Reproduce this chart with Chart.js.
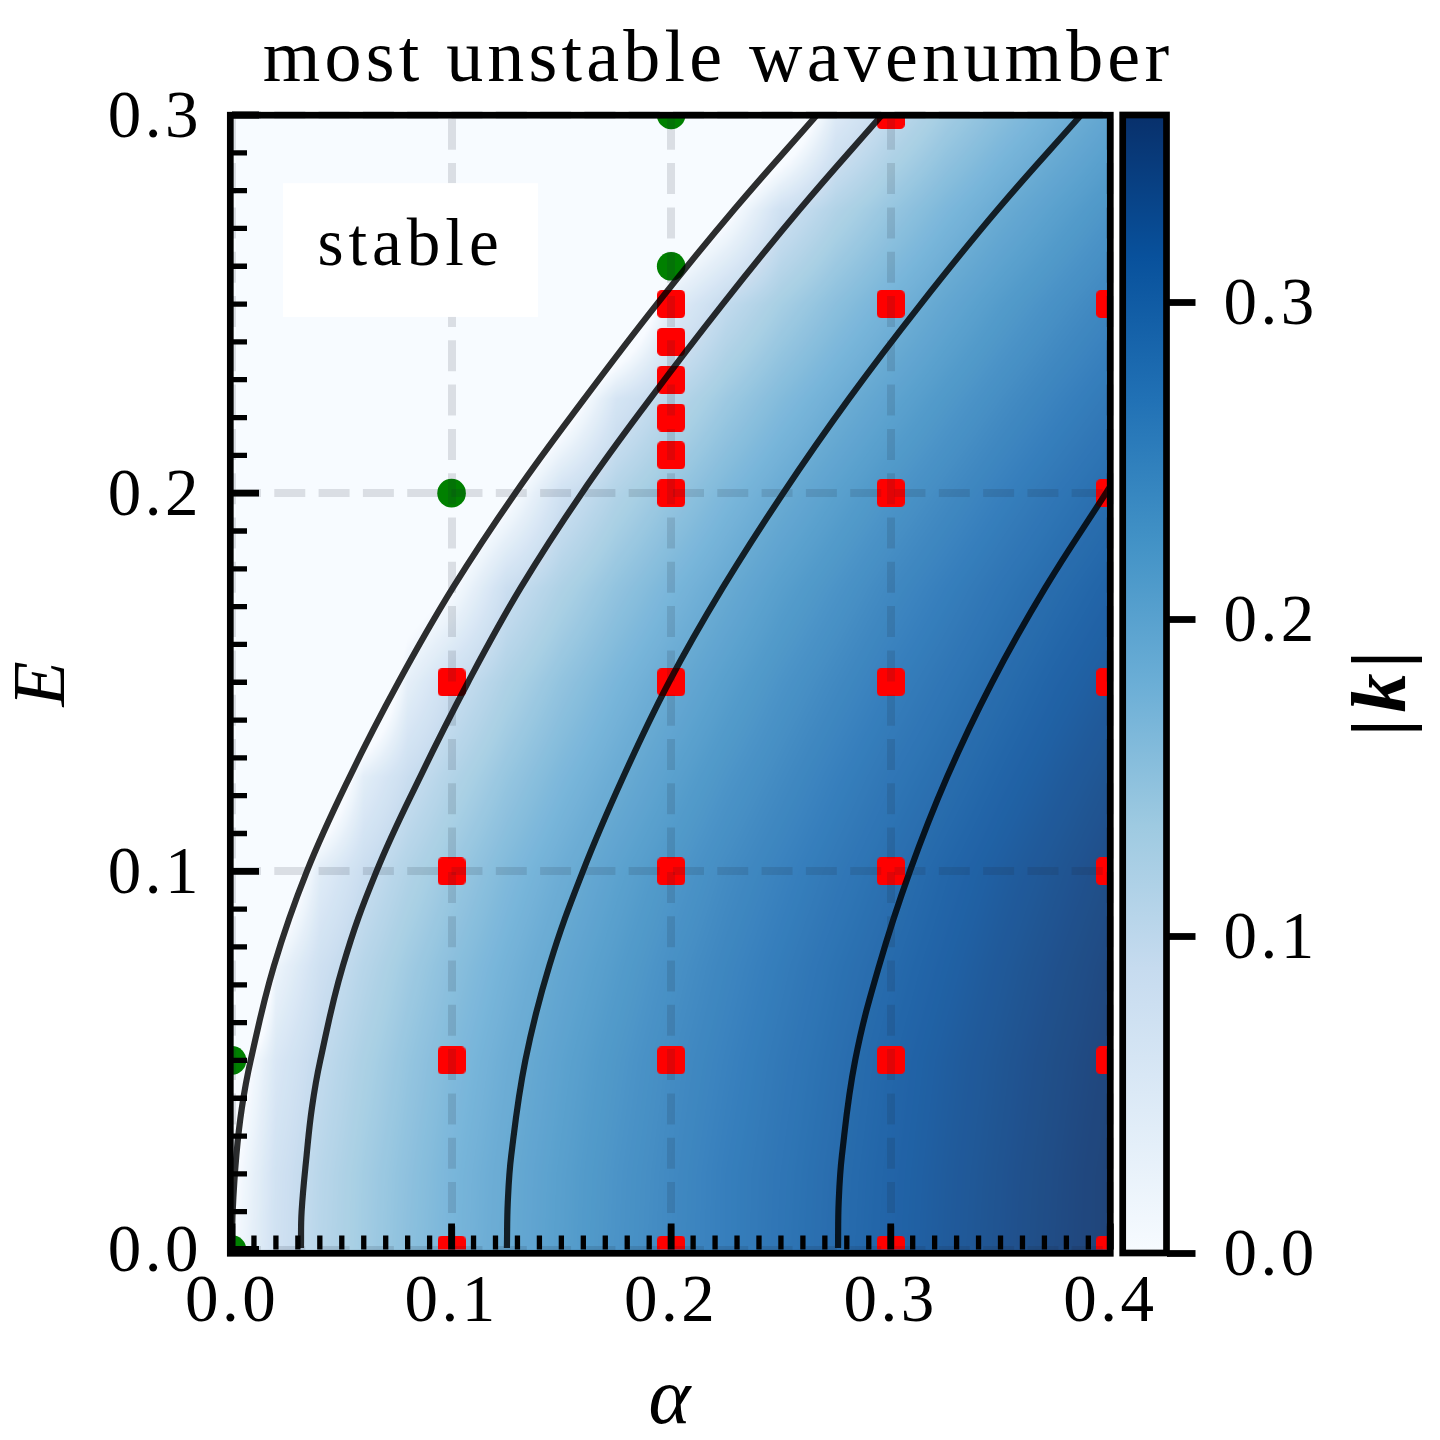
<!DOCTYPE html>
<html>
<head>
<meta charset="utf-8">
<title>most unstable wavenumber</title>
<style>
  html, body { margin: 0; padding: 0; background: #fff; }
  canvas { position: absolute; left: 0; top: 0; }
</style>
<script src="https://cdn.jsdelivr.net/npm/chart.js@4/dist/chart.umd.min.js"></script>
</head>
<body>
<canvas id="plot" width="1440" height="1440"></canvas>
<canvas id="cbar" width="1440" height="1440"></canvas>
<script>
/* tick values */
var xTicks = [0, 0.1, 0.2, 0.3, 0.4];
var yTicks = [0, 0.1, 0.2, 0.3];
var cbarTicks = [0, 0.1, 0.2, 0.3];
var xMinor = [0.01, 0.02, 0.03, 0.04, 0.05, 0.06, 0.07, 0.08, 0.09, 0.11, 0.12, 0.13, 0.14, 0.15, 0.16, 0.17, 0.18, 0.19,
  0.21, 0.22, 0.23, 0.24, 0.25, 0.26, 0.27, 0.28, 0.29, 0.31, 0.32, 0.33, 0.34, 0.35, 0.36, 0.37, 0.38, 0.39];
var yMinor = [0.01, 0.02, 0.03, 0.04, 0.05, 0.06, 0.07, 0.08, 0.09, 0.11, 0.12, 0.13, 0.14, 0.15, 0.16, 0.17, 0.18, 0.19,
  0.21, 0.22, 0.23, 0.24, 0.25, 0.26, 0.27, 0.28, 0.29];
var kMax = 0.3591;

/* simulation points */
var stableAlpha = [0, 0, 0.1, 0.2, 0.2];
var stableE = [0, 0.05, 0.2, 0.26, 0.3];
var unstableAlpha = [0.1, 0.1, 0.1, 0.1,
  0.2, 0.2, 0.2, 0.2, 0.2, 0.2, 0.2, 0.2, 0.2, 0.2,
  0.3, 0.3, 0.3, 0.3, 0.3, 0.3, 0.3,
  0.4, 0.4, 0.4, 0.4, 0.4, 0.4];
var unstableE = [0, 0.05, 0.1, 0.15,
  0, 0.05, 0.1, 0.15, 0.2, 0.21, 0.22, 0.23, 0.24, 0.25,
  0, 0.05, 0.1, 0.15, 0.2, 0.25, 0.3,
  0, 0.05, 0.1, 0.15, 0.2, 0.25];

/* contour lines */
var c0Alpha = [0, 0.0003, 0.002, 0.0045, 0.0085, 0.0191, 0.0341, 0.0536, 0.0758, 0.1006, 0.129, 0.1605, 0.1935, 0.2287, 0.2664];
var c0E = [0, 0.01, 0.025, 0.0375, 0.05, 0.075, 0.1, 0.125, 0.15, 0.175, 0.2, 0.225, 0.25, 0.275, 0.3];
var c1Alpha = [0.0314, 0.0317, 0.034, 0.0364, 0.0402, 0.0505, 0.0658, 0.0857, 0.1075, 0.1315, 0.1593, 0.1905, 0.2235, 0.2585, 0.296];
var c1E = [0.0004, 0.01, 0.025, 0.0375, 0.05, 0.075, 0.1, 0.125, 0.15, 0.175, 0.2, 0.225, 0.25, 0.275, 0.3];
var c2Alpha = [0.1252, 0.1256, 0.1272, 0.1336, 0.1445, 0.1598, 0.1782, 0.199, 0.2235, 0.251, 0.281, 0.3137, 0.3487, 0.3867];
var c2E = [0.0004, 0.0125, 0.025, 0.05, 0.075, 0.1, 0.125, 0.15, 0.175, 0.2, 0.225, 0.25, 0.275, 0.3];
var c3Alpha = [0.276, 0.2763, 0.2778, 0.2838, 0.2947, 0.3087, 0.3257, 0.3462, 0.3704, 0.398, 0.4];
var c3E = [0.0004, 0.0125, 0.025, 0.05, 0.075, 0.1, 0.125, 0.15, 0.175, 0.2, 0.2018];

/* |k| field estimated from the shading and contours. Negative = stable side, so the zero edge sits on the boundary */
var fieldAlpha = [0, 0.02, 0.04, 0.06, 0.08, 0.1, 0.125, 0.15, 0.175, 0.2, 0.225, 0.25, 0.275, 0.3, 0.325, 0.35, 0.375, 0.4];
var fieldE = [0, 0.02, 0.05, 0.075, 0.1, 0.125, 0.15, 0.175, 0.2, 0.225, 0.25, 0.275, 0.3];
var fieldK = [
  [0, 0.08, 0.114, 0.139, 0.161, 0.18, 0.201, 0.22, 0.238, 0.254, 0.269, 0.284, 0.298, 0.311, 0.324, 0.336, 0.348, 0.359],
  [-0.01, 0.078, 0.112, 0.138, 0.159, 0.179, 0.2, 0.219, 0.237, 0.253, 0.269, 0.283, 0.297, 0.31, 0.323, 0.335, 0.347, 0.359],
  [-0.045, 0.061, 0.101, 0.129, 0.152, 0.172, 0.194, 0.214, 0.232, 0.249, 0.264, 0.279, 0.293, 0.307, 0.32, 0.332, 0.344, 0.355],
  [-0.3, 0.02, 0.083, 0.115, 0.141, 0.162, 0.185, 0.206, 0.224, 0.242, 0.258, 0.273, 0.288, 0.301, 0.314, 0.327, 0.339, 0.351],
  [-0.2, -0.096, 0.046, 0.092, 0.122, 0.146, 0.172, 0.194, 0.214, 0.232, 0.249, 0.264, 0.279, 0.293, 0.307, 0.32, 0.332, 0.344],
  [-0.3, -0.2, -0.108, 0.042, 0.091, 0.121, 0.151, 0.176, 0.197, 0.217, 0.235, 0.251, 0.267, 0.282, 0.295, 0.309, 0.322, 0.334],
  [-0.4, -0.3, -0.2, -0.14, 0.036, 0.088, 0.126, 0.155, 0.179, 0.2, 0.219, 0.237, 0.253, 0.269, 0.283, 0.297, 0.311, 0.323],
  [-0.35, -0.25, -0.15, -0.09, -0.04, -0.002, 0.089, 0.126, 0.155, 0.179, 0.2, 0.22, 0.237, 0.254, 0.269, 0.284, 0.298, 0.311],
  [-0.4, -0.3, -0.22, -0.17, -0.12, -0.08, -0.016, 0.082, 0.122, 0.151, 0.176, 0.198, 0.217, 0.235, 0.251, 0.267, 0.282, 0.296],
  [-0.4, -0.34, -0.28, -0.24, -0.2, -0.17, -0.12, -0.05, 0.068, 0.113, 0.144, 0.17, 0.192, 0.212, 0.23, 0.247, 0.263, 0.278],
  [-0.45, -0.42, -0.38, -0.35, -0.32, -0.29, -0.25, -0.2, -0.13, 0.045, 0.101, 0.135, 0.162, 0.185, 0.206, 0.225, 0.242, 0.258],
  [-0.45, -0.42, -0.39, -0.36, -0.33, -0.3, -0.25, -0.2, -0.14, -0.08, -0.016, 0.082, 0.122, 0.151, 0.176, 0.198, 0.217, 0.235],
  [-0.5, -0.48, -0.46, -0.44, -0.42, -0.39, -0.36, -0.32, -0.28, -0.23, -0.17, -0.1, 0.053, 0.104, 0.138, 0.164, 0.187, 0.208]
];

/* matplotlib Blues */
var blues = ['#f7fbff', '#deebf7', '#c6dbef', '#9ecae1', '#6baed6', '#4292c6', '#2171b5', '#08519c', '#08306b'];

var SERIF = '"Liberation Serif", serif';
var BLACK = '#000';

function pairs(xs, ys) {
  return xs.map(function (x, i) { return { x: x, y: ys[i] }; });
}
function hexRgb(h) {
  return [parseInt(h.substr(1, 2), 16), parseInt(h.substr(3, 2), 16), parseInt(h.substr(5, 2), 16)];
}
var bluesRgb = blues.map(hexRgb);
function bluesAt(t) {
  t = Math.max(0, Math.min(1, t)) * (bluesRgb.length - 1);
  var i = Math.min(bluesRgb.length - 2, Math.floor(t)), f = t - i;
  var a = bluesRgb[i], b = bluesRgb[i + 1];
  return [a[0] + (b[0] - a[0]) * f, a[1] + (b[1] - a[1]) * f, a[2] + (b[2] - a[2]) * f];
}
function cellOf(arr, v) {
  var i = 0;
  while (i < arr.length - 2 && v > arr[i + 1]) { i++; }
  var f = (v - arr[i]) / (arr[i + 1] - arr[i]);
  return { i: i, f: Math.max(0, Math.min(1, f)) };
}

/* rounded red square marker */
var redSquare = document.createElement('canvas');
redSquare.width = 28; redSquare.height = 28;
(function () {
  var c = redSquare.getContext('2d');
  c.fillStyle = '#ff0000';
  c.beginPath();
  c.roundRect(0, 0, 28, 28, 4.5);
  c.fill();
})();

/* wider tick labels, closer to the reference face */
var spacingPlugin = {
  id: 'spacing',
  beforeDraw: function (chart) { chart.ctx.letterSpacing = '3.5px'; }
};

/* shaded |k| field under the datasets, positioned through the scales */
var fieldPlugin = {
  id: 'field',
  beforeDatasetsDraw: function (chart) {
    var a = chart.chartArea, sx = chart.scales.x, sy = chart.scales.y;
    var x0 = Math.floor(a.left), y0 = Math.floor(a.top);
    var w = Math.ceil(a.right) - x0, h = Math.ceil(a.bottom) - y0;
    var off = document.createElement('canvas');
    off.width = w; off.height = h;
    var oc = off.getContext('2d');
    var img = oc.createImageData(w, h);
    var lut = [];
    for (var n = 0; n <= 1024; n++) { lut.push(bluesAt(n / 1024)); }
    var cols = [];
    for (var i = 0; i < w; i++) { cols.push(cellOf(fieldAlpha, sx.getValueForPixel(x0 + i + 0.5))); }
    var p = 0;
    for (var j = 0; j < h; j++) {
      var r = cellOf(fieldE, sy.getValueForPixel(y0 + j + 0.5));
      var lo = fieldK[r.i], hi = fieldK[r.i + 1];
      for (var q = 0; q < w; q++) {
        var c = cols[q];
        var v0 = lo[c.i] + (lo[c.i + 1] - lo[c.i]) * c.f;
        var v1 = hi[c.i] + (hi[c.i + 1] - hi[c.i]) * c.f;
        var k = v0 + (v1 - v0) * r.f;
        var t = Math.max(0, Math.min(1024, Math.round(k / kMax * 1024)));
        var col = lut[t];
        img.data[p++] = col[0]; img.data[p++] = col[1]; img.data[p++] = col[2]; img.data[p++] = 255;
      }
    }
    oc.putImageData(img, 0, 0);
    var ctx = chart.ctx;
    ctx.save();
    ctx.globalAlpha = 0.9;
    ctx.drawImage(off, x0, y0);
    ctx.restore();
  }
};

/* box, spines, inward ticks, title */
var framePlugin = {
  id: 'frame',
  afterDraw: function (chart) {
    var ctx = chart.ctx, a = chart.chartArea, sx = chart.scales.x, sy = chart.scales.y;
    ctx.save();

    // "stable" label box, in data coordinates
    var bl = sx.getPixelForValue(0.0232), br = sx.getPixelForValue(0.1394);
    var bt = sy.getPixelForValue(0.282), bb = sy.getPixelForValue(0.2466);
    ctx.fillStyle = '#fff';
    ctx.fillRect(bl, bt, br - bl, bb - bt);
    ctx.fillStyle = BLACK;
    ctx.font = '67px ' + SERIF;
    ctx.textAlign = 'center';
    ctx.textBaseline = 'alphabetic';
    ctx.letterSpacing = '5px';
    ctx.fillText('stable', (bl + br) / 2, 265);

    ctx.font = '74px ' + SERIF;
    ctx.letterSpacing = '4.2px';
    ctx.fillText('most unstable wavenumber', 718, 81);
    ctx.letterSpacing = '0px';

    ctx.strokeStyle = BLACK;
    ctx.lineCap = 'butt';
    ctx.lineWidth = 5.3;
    ctx.beginPath();
    yMinor.forEach(function (v) {
      var y = sy.getPixelForValue(v);
      ctx.moveTo(a.left, y); ctx.lineTo(a.left + 15, y);
    });
    xMinor.forEach(function (v) {
      var x = sx.getPixelForValue(v);
      ctx.moveTo(x, a.bottom); ctx.lineTo(x, a.bottom - 14);
    });
    ctx.stroke();
    ctx.lineWidth = 6.8;
    ctx.beginPath();
    yTicks.forEach(function (v) {
      var y = sy.getPixelForValue(v);
      ctx.moveTo(a.left, y); ctx.lineTo(a.left + 27, y);
    });
    xTicks.forEach(function (v) {
      var x = sx.getPixelForValue(v);
      ctx.moveTo(x, a.bottom); ctx.lineTo(x, a.bottom - 26);
    });
    ctx.stroke();

    ctx.lineWidth = 6.7;
    ctx.lineJoin = 'miter';
    ctx.strokeRect(230.3, 115.2, 880, 1138.1);
    ctx.restore();
  }
};

var cbarFrame = {
  id: 'cbarFrame',
  afterDraw: function (chart) {
    var ctx = chart.ctx, a = chart.chartArea;
    ctx.save();
    ctx.strokeStyle = BLACK;
    ctx.lineWidth = 6.7;
    ctx.strokeRect(a.left, a.top, a.right - a.left, a.bottom - a.top);
    ctx.translate(1385, 690);
    ctx.rotate(-Math.PI / 2);
    ctx.fillStyle = BLACK;
    ctx.font = 'italic bold 78px ' + SERIF;
    ctx.textAlign = 'center';
    ctx.textBaseline = 'middle';
    ctx.letterSpacing = '6px';
    ctx.fillText('|k|', 0, 0);
    ctx.restore();
  }
};

var gridColor = 'rgba(20,30,50,0.13)';
var lineColor = 'rgba(0,0,0,0.82)';

new Chart(document.getElementById('plot'), {
  type: 'scatter',
  plugins: [spacingPlugin, fieldPlugin, framePlugin],
  data: {
    datasets: [
      { label: 'k0', data: pairs(c0Alpha, c0E), showLine: true, pointRadius: 0, borderColor: lineColor, borderWidth: 6.2, tension: 0.4, clip: 0, order: 0 },
      { label: 'k1', data: pairs(c1Alpha, c1E), showLine: true, pointRadius: 0, borderColor: lineColor, borderWidth: 6.2, tension: 0.4, clip: 0, order: 0 },
      { label: 'k2', data: pairs(c2Alpha, c2E), showLine: true, pointRadius: 0, borderColor: lineColor, borderWidth: 6.2, tension: 0.4, clip: 0, order: 0 },
      { label: 'k3', data: pairs(c3Alpha, c3E), showLine: true, pointRadius: 0, borderColor: lineColor, borderWidth: 6.2, tension: 0.4, clip: 0, order: 0 },
      { label: 'stable', data: pairs(stableAlpha, stableE), pointStyle: 'circle', pointRadius: 14.3, pointBackgroundColor: '#008000', pointBorderWidth: 0, clip: 0, order: 1 },
      { label: 'unstable', data: pairs(unstableAlpha, unstableE), pointStyle: redSquare, pointRadius: 14, clip: 0, order: 1 }
    ]
  },
  options: {
    responsive: false,
    animation: false,
    events: [],
    layout: { padding: { left: 0, right: 329.7, top: 115, bottom: 0 } },
    plugins: { legend: { display: false }, tooltip: { enabled: false } },
    scales: {
      x: {
        type: 'linear', min: 0, max: 0.4,
        afterBuildTicks: function (s) { s.ticks = xTicks.map(function (v) { return { value: v }; }); },
        afterFit: function (s) { s.height = 190.5; },
        grid: { z: 1, color: gridColor, lineWidth: 8, drawTicks: false },
        border: { display: false, dash: [31, 13.3], dashOffset: 40.5 },
        ticks: {
          autoSkip: false, maxRotation: 0, padding: 14, color: BLACK,
          font: { family: SERIF, size: 67 },
          callback: function (v) { return v.toFixed(1); }
        },
        title: { display: true, text: 'α', color: BLACK, font: { family: SERIF, size: 80, style: 'italic' }, padding: { top: 0, bottom: -10 } }
      },
      y: {
        type: 'linear', min: 0, max: 0.3,
        afterBuildTicks: function (s) { s.ticks = yTicks.map(function (v) { return { value: v }; }); },
        afterFit: function (s) { s.width = 232; },
        grid: { z: 1, color: gridColor, lineWidth: 8, drawTicks: false },
        border: { display: false, dash: [31, 13.3], dashOffset: 2 },
        ticks: {
          autoSkip: false, padding: 30, labelOffset: 4, color: BLACK,
          font: { family: SERIF, size: 67 },
          callback: function (v) { return v.toFixed(1); }
        },
        title: { display: true, text: 'E', color: BLACK, font: { family: SERIF, size: 74, style: 'italic' }, padding: { top: 0, bottom: 0 } }
      }
    }
  }
});

/* colorbar */
new Chart(document.getElementById('cbar'), {
  type: 'bar',
  plugins: [spacingPlugin, cbarFrame],
  data: {
    labels: [''],
    datasets: [{
      data: [[0, kMax]],
      barPercentage: 1,
      categoryPercentage: 1,
      borderWidth: 0,
      backgroundColor: function (ctx) {
        var area = ctx.chart.chartArea;
        if (!area) { return blues[4]; }
        var g = ctx.chart.ctx.createLinearGradient(0, area.bottom, 0, area.top);
        blues.forEach(function (c, i) { g.addColorStop(i / (blues.length - 1), c); });
        return g;
      }
    }]
  },
  options: {
    responsive: false,
    animation: false,
    events: [],
    layout: { padding: { left: 1122.7, right: 0, top: 115, bottom: 187 } },
    plugins: { legend: { display: false }, tooltip: { enabled: false } },
    scales: {
      x: { display: false },
      y: {
        position: 'right', min: 0, max: kMax,
        afterBuildTicks: function (s) { s.ticks = cbarTicks.map(function (v) { return { value: v }; }); },
        afterFit: function (s) { s.width = 273.5; },
        grid: { drawOnChartArea: false, drawTicks: true, tickLength: 29, tickWidth: 6.8, tickColor: BLACK },
        border: { display: false },
        ticks: {
          autoSkip: false, padding: 28, labelOffset: 4, color: BLACK,
          font: { family: SERIF, size: 67 },
          callback: function (v) { return v.toFixed(1); }
        }
      }
    }
  }
});
</script>
</body>
</html>
